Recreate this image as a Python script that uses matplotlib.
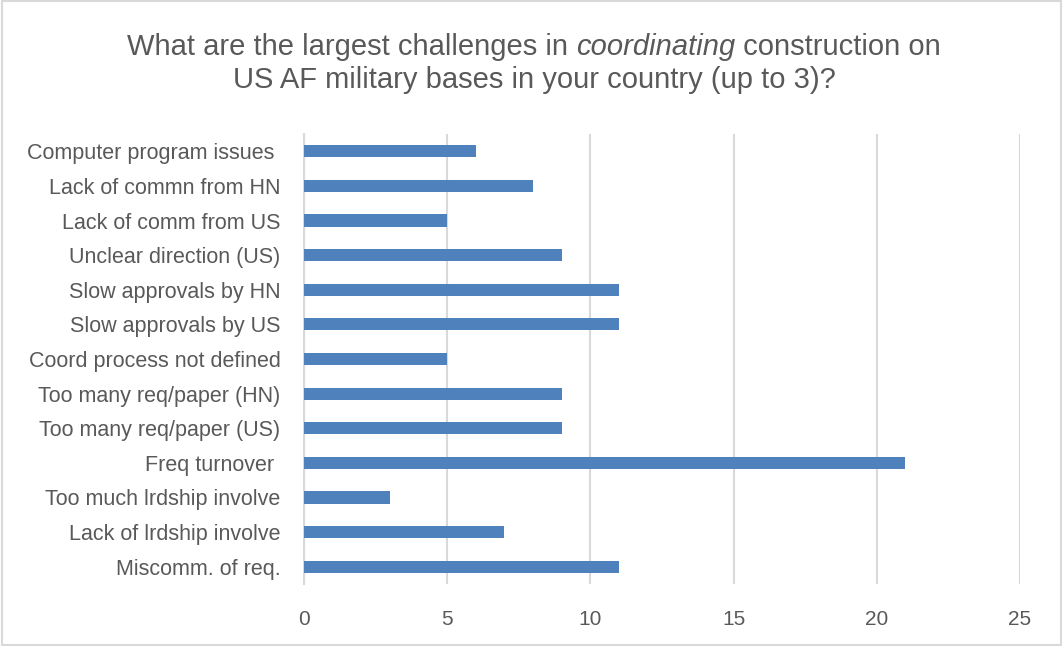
import matplotlib.pyplot as plt
from matplotlib.patches import Rectangle

categories = ["Computer program issues ", "Lack of commn from HN", "Lack of comm from US",
              "Unclear direction (US)", "Slow approvals by HN", "Slow approvals by US",
              "Coord process not defined", "Too many req/paper (HN)", "Too many req/paper (US)",
              "Freq turnover ", "Too much lrdship involve", "Lack of lrdship involve",
              "Miscomm. of req."]
values = [6, 8, 5, 9, 11, 11, 5, 9, 9, 21, 3, 7, 11]
xticks = [0, 5, 10, 15, 20, 25]

plt.rcParams['font.family'] = ["Liberation Sans", "DejaVu Sans"]
txt = '#595959'

fig = plt.figure(figsize=(10.63, 6.46), dpi=100)
ax = fig.add_axes([304 / 1063, 62 / 646, 716 / 1063, 450 / 646])

ypos = list(range(len(categories)))[::-1]
ax.barh(ypos, values, height=0.35, color='#4f81bd', zorder=3)
ax.set_ylim(-0.5, len(categories) - 0.5)
ax.set_xlim(0, 25)
ax.set_yticks(ypos)
ax.set_yticklabels(categories, fontsize=15.5, color=txt)
ax.set_xticks(xticks)
ax.set_xticklabels([str(t) for t in xticks], fontsize=15, color=txt)
ax.tick_params(axis='y', length=0, pad=17)
ax.tick_params(axis='x', length=0, pad=19)
ax.grid(axis='x', color='#d9d9d9', linewidth=1.5, zorder=0)
for s in ['top', 'right', 'bottom']:
    ax.spines[s].set_visible(False)
ax.spines['left'].set_color('#d9d9d9')
ax.spines['left'].set_linewidth(1.5)

# title with italic word
fig.canvas.draw()
r = fig.canvas.get_renderer()
parts = [("What are the largest challenges in ", 'normal'), ("coordinating", 'italic'),
         (" construction on", 'normal')]
ts = [fig.text(0, 0, p, fontsize=21, color=txt, style=st, va='center') for p, st in parts]
widths = [t.get_window_extent(r).width for t in ts]
x = (534 - sum(widths) / 2) / 1063
for t, w in zip(ts, widths):
    t.set_position((x, 1 - 47 / 646))
    x += w / 1063
fig.text(534 / 1063, 1 - 80 / 646, "US AF military bases in your country (up to 3)?",
         fontsize=21, color=txt, ha='center', va='center')

fig.patches.append(Rectangle((0.002, 0.002), 0.996, 0.996, transform=fig.transFigure,
                             fill=False, edgecolor='#d9d9d9', linewidth=1.5))

fig.savefig('out.png', dpi=100)
